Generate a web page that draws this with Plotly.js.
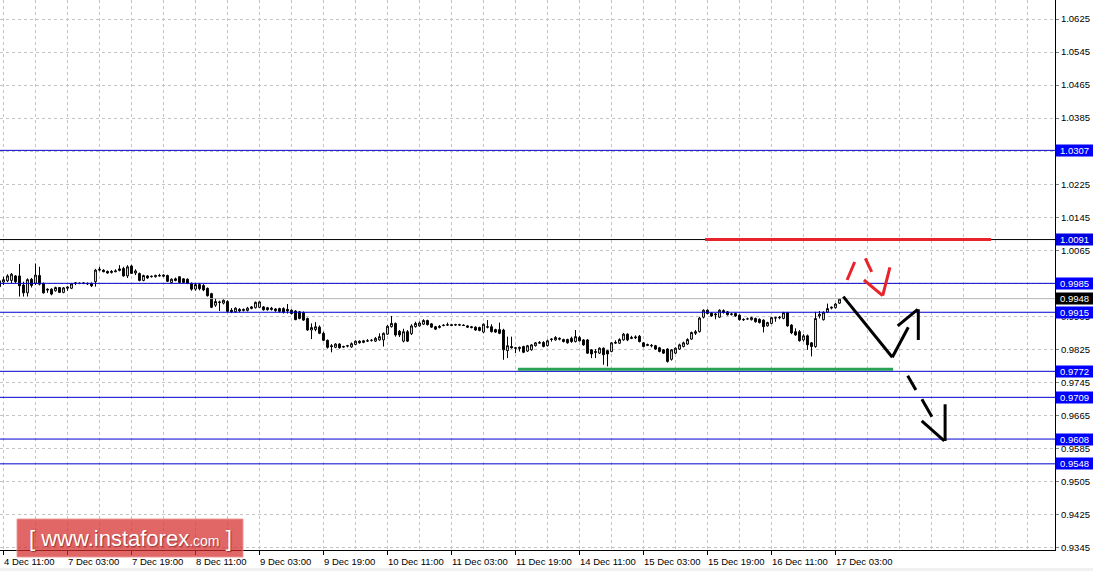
<!DOCTYPE html>
<html>
<head>
<meta charset="utf-8">
<script src="https://cdn.plot.ly/plotly-3.0.1.min.js"></script>
<style>
html,body{margin:0;padding:0;background:#fff;}
#chart{width:1093px;height:571px;}
</style>
</head>
<body>
<div id="chart"></div>
<script>
// ---- candle data (H1 bars, first bar partially cut at left) ----
const openP = [0.9991,0.9988,0.9991,0.9992,1.0003,1.0003,0.9981,0.9962,0.9995,0.9985,1.0004,0.9985,0.9971,0.9971,0.9967,0.9975,0.9963,0.9973,0.9973,0.9985,0.9985,0.9986,0.9985,0.9985,0.9989,1.0017,1.0017,1.0014,1.0011,1.0013,1.0016,1.0021,1.0003,1.0027,1.0010,1.0009,0.9992,1.0003,1.0001,1.0001,1.0004,1.0002,1.0004,0.9987,0.9996,1.0001,0.9996,0.9995,0.9985,0.9971,0.9982,0.9980,0.9973,0.9960,0.9932,0.9940,0.9937,0.9941,0.9920,0.9916,0.9922,0.9919,0.9919,0.9924,0.9926,0.9927,0.9928,0.9926,0.9925,0.9923,0.9924,0.9924,0.9922,0.9920,0.9918,0.9916,0.9914,0.9900,0.9872,0.9873,0.9879,0.9864,0.9847,0.9834,0.9830,0.9838,0.9832,0.9833,0.9831,0.9837,0.9845,0.9842,0.9845,0.9847,0.9845,0.9848,0.9848,0.9862,0.9880,0.9888,0.9869,0.9845,0.9868,0.9863,0.9880,0.9882,0.9886,0.9895,0.9887,0.9880,0.9878,0.9884,0.9885,0.9885,0.9884,0.9885,0.9884,0.9882,0.9880,0.9879,0.9878,0.9867,0.9880,0.9880,0.9873,0.9873,0.9872,0.9822,0.9832,0.9829,0.9827,0.9832,0.9821,0.9824,0.9834,0.9840,0.9842,0.9834,0.9849,0.9848,0.9852,0.9849,0.9849,0.9852,0.9844,0.9854,0.9848,0.9848,0.9824,0.9820,0.9816,0.9828,0.9822,0.9820,0.9840,0.9840,0.9848,0.9862,0.9854,0.9853,0.9857,0.9841,0.9837,0.9835,0.9834,0.9829,0.9824,0.9826,0.9801,0.9816,0.9826,0.9832,0.9838,0.9850,0.9864,0.9868,0.9903,0.9920,0.9913,0.9911,0.9903,0.9919,0.9916,0.9911,0.9912,0.9908,0.9898,0.9899,0.9897,0.9900,0.9898,0.9896,0.9882,0.9888,0.9902,0.9903,0.9900,0.9914,0.9884,0.9868,0.9868,0.9848,0.9858,0.9841,0.9832,0.9906,0.9897,0.9915,0.9925,0.9926,0.9937];
const highP = [0.9995,1.0001,1.0007,1.0010,1.0005,1.0032,0.9989,0.9997,0.9998,1.0033,1.0025,0.9987,0.9973,0.9973,0.9977,0.9976,0.9976,0.9978,0.9986,0.9988,0.9987,0.9987,0.9987,0.9987,1.0020,1.0025,1.0019,1.0016,1.0017,1.0019,1.0029,1.0025,1.0029,1.0030,1.0019,1.0011,1.0006,1.0005,1.0004,1.0006,1.0008,1.0007,1.0006,0.9997,0.9999,1.0002,0.9997,0.9997,0.9987,0.9985,0.9986,0.9983,0.9975,0.9962,0.9949,0.9943,0.9946,0.9944,0.9925,0.9927,0.9925,0.9924,0.9928,0.9930,0.9941,0.9942,0.9930,0.9928,0.9928,0.9925,0.9926,0.9927,0.9935,0.9922,0.9920,0.9918,0.9917,0.9902,0.9888,0.9891,0.9883,0.9868,0.9849,0.9838,0.9840,0.9840,0.9834,0.9836,0.9842,0.9847,0.9847,0.9848,0.9850,0.9850,0.9855,0.9864,0.9866,0.9884,0.9906,0.9890,0.9872,0.9875,0.9872,0.9886,0.9892,0.9893,0.9898,0.9897,0.9889,0.9882,0.9884,0.9886,0.9890,0.9887,0.9887,0.9887,0.9886,0.9884,0.9882,0.9881,0.9880,0.9888,0.9896,0.9886,0.9875,0.9890,0.9875,0.9856,0.9856,0.9831,0.9832,0.9834,0.9836,0.9838,0.9843,0.9845,0.9845,0.9849,0.9852,0.9857,0.9854,0.9851,0.9851,0.9856,0.9872,0.9858,0.9850,0.9850,0.9826,0.9826,0.9830,0.9830,0.9824,0.9843,0.9847,0.9852,0.9865,0.9864,0.9858,0.9859,0.9860,0.9843,0.9839,0.9838,0.9836,0.9831,0.9826,0.9828,0.9826,0.9830,0.9839,0.9844,0.9852,0.9868,0.9872,0.9904,0.9922,0.9922,0.9915,0.9913,0.9922,0.9922,0.9918,0.9913,0.9914,0.9910,0.9900,0.9902,0.9904,0.9902,0.9900,0.9898,0.9892,0.9904,0.9904,0.9906,0.9916,0.9916,0.9886,0.9876,0.9872,0.9862,0.9861,0.9843,0.9916,0.9918,0.9917,0.9936,0.9929,0.9937,0.9949];
const lowP = [0.9969,0.9981,0.9988,0.9985,0.9985,0.9953,0.9953,0.9953,0.9975,0.9981,0.9980,0.9960,0.9962,0.9956,0.9965,0.9962,0.9961,0.9967,0.9971,0.9981,0.9983,0.9983,0.9981,0.9976,0.9977,1.0014,1.0012,1.0008,1.0009,1.0012,1.0014,1.0001,0.9998,1.0008,1.0005,0.9990,0.9990,0.9996,0.9999,0.9999,1.0002,1.0000,0.9988,0.9985,0.9990,0.9985,0.9985,0.9983,0.9967,0.9967,0.9968,0.9966,0.9953,0.9925,0.9928,0.9918,0.9934,0.9915,0.9913,0.9914,0.9915,0.9917,0.9917,0.9922,0.9924,0.9926,0.9919,0.9919,0.9919,0.9916,0.9914,0.9912,0.9912,0.9910,0.9896,0.9898,0.9894,0.9870,0.9850,0.9869,0.9862,0.9845,0.9827,0.9818,0.9828,0.9827,0.9829,0.9830,0.9829,0.9835,0.9839,0.9840,0.9843,0.9844,0.9843,0.9846,0.9832,0.9860,0.9878,0.9856,0.9855,0.9842,0.9843,0.9860,0.9878,0.9880,0.9884,0.9883,0.9877,0.9872,0.9876,0.9881,0.9882,0.9882,0.9882,0.9882,0.9882,0.9877,0.9876,0.9870,0.9869,0.9864,0.9876,0.9866,0.9865,0.9862,0.9800,0.9804,0.9827,0.9816,0.9820,0.9816,0.9819,0.9822,0.9832,0.9838,0.9830,0.9832,0.9844,0.9846,0.9847,0.9842,0.9839,0.9841,0.9842,0.9844,0.9834,0.9814,0.9804,0.9804,0.9814,0.9788,0.9784,0.9818,0.9838,0.9838,0.9846,0.9845,0.9850,0.9850,0.9842,0.9830,0.9833,0.9830,0.9824,0.9818,0.9814,0.9793,0.9798,0.9814,0.9824,0.9830,0.9836,0.9848,0.9860,0.9866,0.9900,0.9910,0.9904,0.9898,0.9901,0.9912,0.9907,0.9907,0.9904,0.9895,0.9894,0.9897,0.9895,0.9890,0.9888,0.9866,0.9880,0.9886,0.9892,0.9898,0.9898,0.9880,0.9862,0.9858,0.9844,0.9844,0.9824,0.9808,0.9829,0.9900,0.9895,0.9913,0.9922,0.9924,0.9935];
const closeP = [0.9977,0.9994,1.0003,1.0007,0.9989,0.9979,0.9962,0.9994,0.9980,1.0005,0.9983,0.9962,0.9969,0.9959,0.9975,0.9963,0.9974,0.9976,0.9984,0.9986,0.9985,0.9985,0.9984,0.9979,1.0017,1.0019,1.0013,1.0010,1.0014,1.0015,1.0020,1.0003,1.0025,1.0009,1.0015,0.9992,1.0004,0.9998,1.0002,1.0004,1.0003,1.0005,0.9990,0.9995,0.9992,0.9987,0.9987,0.9985,0.9971,0.9982,0.9972,0.9969,0.9955,0.9927,0.9941,0.9939,0.9944,0.9917,0.9916,0.9925,0.9918,0.9922,0.9925,0.9928,0.9939,0.9940,0.9921,0.9921,0.9922,0.9919,0.9917,0.9915,0.9918,0.9912,0.9897,0.9900,0.9896,0.9872,0.9878,0.9880,0.9864,0.9847,0.9830,0.9832,0.9838,0.9829,0.9831,0.9834,0.9839,0.9845,0.9841,0.9846,0.9846,0.9847,0.9852,0.9856,0.9864,0.9881,0.9888,0.9860,0.9860,0.9868,0.9845,0.9882,0.9888,0.9889,0.9895,0.9885,0.9879,0.9874,0.9881,0.9883,0.9884,0.9883,0.9885,0.9884,0.9883,0.9879,0.9878,0.9872,0.9871,0.9886,0.9879,0.9868,0.9867,0.9864,0.9824,0.9834,0.9829,0.9828,0.9830,0.9818,0.9834,0.9836,0.9841,0.9842,0.9832,0.9846,0.9850,0.9854,0.9850,0.9844,0.9841,0.9844,0.9856,0.9846,0.9836,0.9816,0.9814,0.9818,0.9828,0.9812,0.9814,0.9841,0.9842,0.9849,0.9862,0.9848,0.9852,0.9855,0.9844,0.9832,0.9835,0.9834,0.9826,0.9820,0.9816,0.9796,0.9824,0.9828,0.9836,0.9841,0.9849,0.9866,0.9868,0.9901,0.9920,0.9912,0.9906,0.9909,0.9920,0.9914,0.9909,0.9910,0.9906,0.9897,0.9897,0.9899,0.9902,0.9892,0.9890,0.9880,0.9890,0.9902,0.9901,0.9902,0.9914,0.9882,0.9865,0.9860,0.9846,0.9858,0.9836,0.9832,0.9900,0.9910,0.9915,0.9924,0.9927,0.9935,0.9947];

// ---- axis ticks ----
const xTickBars = [0,16,32,48,64,80,96,112,128,144,160,176,192,208];
const xTickLabels = ["4 Dec 11:00","7 Dec 03:00","7 Dec 19:00","8 Dec 11:00","9 Dec 03:00","9 Dec 19:00","10 Dec 11:00","11 Dec 03:00","11 Dec 19:00","14 Dec 11:00","15 Dec 03:00","15 Dec 19:00","16 Dec 11:00","17 Dec 03:00"];
const yTickValues = [1.0625,1.0545,1.0465,1.0385,1.0305,1.0225,1.0145,1.0065,0.9985,0.9905,0.9825,0.9745,0.9665,0.9585,0.9505,0.9425,0.9345];
const yTickLabels = ["1.0625","1.0545","1.0465","1.0385","1.0305","1.0225","1.0145","1.0065","0.9985","0.9905","0.9825","0.9745","0.9665","0.9585","0.9505","0.9425","0.9345"];

// ---- horizontal levels ----
const blueLevels = [1.0307, 0.9985, 0.9915, 0.9772, 0.9709, 0.9608, 0.9548];
const blackLevel = 1.0091;
const bidLevel = 0.9948;
const levelLabels = ["1.0307","1.0091","0.9985","0.9948","0.9915","0.9772","0.9709","0.9608","0.9548"];
const levelValues = [1.0307, 1.0091, 0.9985, 0.9948, 0.9915, 0.9772, 0.9709, 0.9608, 0.9548];
const levelBoxColors = ["#0000ff","#0000e0","#0000ff","#000000","#0000ff","#0000ff","#0000ff","#0000ff","#0000ff"];

// ---- drawn objects (bar index, price) ----
const resistanceSeg = [175.4, 246.9, 1.0091];
const supportSeg = [128.6, 222.4, 0.9777];
const blackArrowSolid = [[209.95,0.99527,222.2,0.98060],[222.2,0.98060,226.2,0.98786],[223.55,0.98818,228.55,0.99222],[228.7,0.99222,228.7,0.98479]];
const blackArrowDashed = [[226.05,0.97614,228.1,0.97268],[229.6,0.97043,232.1,0.96622],[229.55,0.96518,235.2,0.96034],[235.4,0.96922,235.4,0.96034]];
const redArrow = [[210.9,0.99931,212.8,1.00367],[215.45,1.00457,217.05,1.00125],[215.1,0.99931,219.8,0.99551],[219.8,0.99551,221.6,1.00239]];

const barIndex = openP.map((_, k) => k - 1);

const FONT = "Liberation Sans, Arial, sans-serif";
const GRID = "#c4c4c4";

const trace = {
  type: 'candlestick',
  x: barIndex, open: openP, high: highP, low: lowP, close: closeP,
  increasing: {line: {color: '#000000', width: 1}, fillcolor: '#ffffff'},
  decreasing: {line: {color: '#000000', width: 1}, fillcolor: '#000000'},
  whiskerwidth: 0,
  hoverinfo: 'skip',
  showlegend: false
};

const shapes = [];
shapes.push({type:'line', xref:'paper', x0:0, x1:1, yref:'y', y0:bidLevel, y1:bidLevel, line:{color:'#b4b4b4', width:1}, layer:'above'});
shapes.push({type:'line', xref:'paper', x0:0, x1:1, yref:'y', y0:blackLevel, y1:blackLevel, line:{color:'#000000', width:1}, layer:'above'});
blueLevels.forEach(v => shapes.push({type:'line', xref:'paper', x0:0, x1:1, yref:'y', y0:v, y1:v, line:{color:'#0000d0', width:1}, layer:'above'}));
shapes.push({type:'line', xref:'x', yref:'y', x0:resistanceSeg[0], x1:resistanceSeg[1], y0:resistanceSeg[2], y1:resistanceSeg[2], line:{color:'#e8232b', width:3}, layer:'above'});
shapes.push({type:'line', xref:'x', yref:'y', x0:supportSeg[0], x1:supportSeg[1], y0:supportSeg[2], y1:supportSeg[2], line:{color:'#2aa157', width:3}, layer:'above'});
blackArrowSolid.concat(blackArrowDashed).forEach(s => shapes.push({type:'line', xref:'x', yref:'y', x0:s[0], y0:s[1], x1:s[2], y1:s[3], line:{color:'#000000', width:3}, layer:'above'}));
redArrow.forEach(s => shapes.push({type:'line', xref:'x', yref:'y', x0:s[0], y0:s[1], x1:s[2], y1:s[3], line:{color:'#e8232b', width:3}, layer:'above'}));
shapes.push({type:'rect', xref:'paper', yref:'paper', x0:-0.01, x1:1.04, y0:-0.0385, y1:-0.0328, line:{width:0}, fillcolor:'#f0f0f0', layer:'above'});
shapes.push({type:'rect', xref:'paper', yref:'paper', x0:17/1055, x1:243/1055, y0:-7/550, y1:31/550, line:{color:'rgba(235,150,150,0.9)', width:1}, fillcolor:'rgba(214,44,44,0.72)', layer:'above'});

const annotations = [];
xTickBars.forEach((b, k) => annotations.push({
  xref:'x', yref:'paper', x:b, y:0, xanchor:'left', yanchor:'top', yshift:-4, xshift:-2,
  text:xTickLabels[k], showarrow:false, font:{family:FONT, size:9.5, color:'#000'}
}));
levelLabels.forEach((t, k) => annotations.push({
  xref:'paper', yref:'y', x:1, y:levelValues[k], xanchor:'left', yanchor:'middle', xshift:0,
  text:t, showarrow:false, bgcolor:levelBoxColors[k], width:37, height:11, borderpad:0, align:'center',
  font:{family:FONT, size:9.5, color:'#ffffff'}
}));
annotations.push({
  xref:'paper', yref:'paper', x:130/1055, y:12/550, xanchor:'center', yanchor:'middle',
  text:'[ www.instaforex<span style="font-size:14px">.com</span> ]', showarrow:false,
  font:{family:FONT, size:22, color:'#ffffff', shadow:'1px 1px 1px rgba(90,0,0,0.5)'}
});

const layout = {
  width:1093, height:571,
  margin:{l:0, r:38, t:0, b:21, pad:0},
  paper_bgcolor:'#ffffff', plot_bgcolor:'#ffffff',
  showlegend:false,
  boxgap:0.35,
  xaxis:{
    range:[-0.875, 262.875], showticklabels:false, tickvals:xTickBars,
    ticks:'outside', ticklen:4, tickcolor:'#000', tickwidth:1,
    showgrid:true, gridcolor:GRID, griddash:'3px,3px', gridwidth:1,
    minor:{dtick:8, tick0:0, showgrid:true, gridcolor:GRID, griddash:'3px,3px', gridwidth:1, ticks:''},
    showline:true, linecolor:'#000', linewidth:1, zeroline:false,
    rangeslider:{visible:false}, fixedrange:true
  },
  yaxis:{
    side:'right', range:[0.93394, 1.06710],
    tickvals:yTickValues, ticktext:yTickLabels,
    ticks:'outside', ticklen:3, tickcolor:'#808080', tickwidth:1,
    tickfont:{family:FONT, size:9.5, color:'#000'},
    showgrid:true, gridcolor:GRID, griddash:'3px,3px', gridwidth:1,
    showline:true, linecolor:'#000', linewidth:1, zeroline:false, fixedrange:true
  },
  shapes:shapes,
  annotations:annotations,
  hovermode:false
};

Plotly.newPlot('chart', [trace], layout, {displayModeBar:false, staticPlot:true});
</script>
</body>
</html>
